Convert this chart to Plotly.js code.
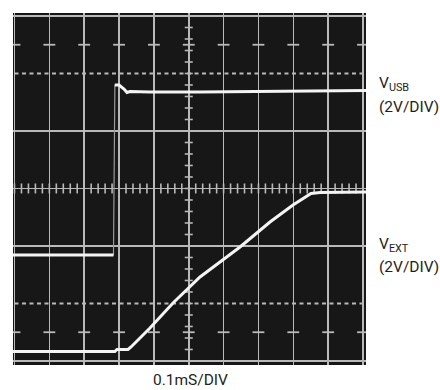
<!DOCTYPE html>
<html>
<head>
<meta charset="utf-8">
<script src="https://cdn.plot.ly/plotly-3.0.1.min.js"></script>
<style>html,body{margin:0;padding:0;background:#fff;}#chart{width:440px;height:390px;}</style>
</head>
<body>
<div id="chart"></div>
<script>
// Time in divisions (0.1 ms/DIV), voltage in divisions (2 V/DIV)
const vusbT = [-0.05, 2.84, 2.88, 3.0, 3.142, 3.228, 3.314, 3.888, 5.323, 6.758, 8.192, 10.09];
const vusbV = [1.843, 1.843, 4.80, 4.80, 4.73, 4.67, 4.687, 4.678, 4.678, 4.687, 4.696, 4.704];
const vextT = [-0.05, 2.88, 2.94, 3.257, 3.343, 3.888, 4.548, 5.323, 6.471, 7.331, 7.991, 8.508, 8.766, 10.09];
const vextV = [0.165, 0.165, 0.2, 0.2, 0.243, 0.574, 1.009, 1.461, 1.983, 2.417, 2.713, 2.913, 2.930, 2.939];
const xDivs = [0,1,2,3,4,5,6,7,8,9,10];
const ySolid = [0,2,3,4,6];
const yDashed = [1,5];
const yMarkRows = [0.5,5.5];
const labels = {usb: 'V<sub>USB</sub>', ext: 'V<sub>EXT</sub>', scale: '(2V/DIV)', time: '0.1mS/DIV'};

const grid = '#b9b9b9';
const traceCol = '#f4f4f4';
const shapes = [];
yDashed.forEach(y => shapes.push({type:'line', xref:'x', yref:'y', x0:0, x1:10, y0:y, y1:y, layer:'below',
  line:{color:grid, width:1.8, dash:'4px,3.5px'}}));
yMarkRows.forEach(y => xDivs.forEach(x => shapes.push({type:'line', xref:'x', yref:'y', x0:x-0.17, x1:x+0.17, y0:y, y1:y, layer:'below',
  line:{color:grid, width:1.8}})));
for (let i = 0; i <= 30; i++) { const y = i*0.2;
  shapes.push({type:'line', xref:'x', yref:'y', x0:5-0.115, x1:5+0.115, y0:y, y1:y, layer:'below', line:{color:grid, width:1.6}}); }
for (let i = 0; i <= 50; i++) { const x = i*0.2;
  shapes.push({type:'line', xref:'x', yref:'y', x0:x, x1:x, y0:3-0.087, y1:3+0.087, layer:'below', line:{color:grid, width:1.6}}); }

const data = [
  {x: vusbT, y: vusbV, mode:'lines', line:{color:'#9a9a9a', width:1.2}, hoverinfo:'skip'},
  {x: vusbT.slice(0,2), y: vusbV.slice(0,2), mode:'lines', line:{color:traceCol, width:3}, hoverinfo:'skip'},
  {x: vusbT.slice(2), y: vusbV.slice(2), mode:'lines', line:{color:traceCol, width:3}, hoverinfo:'skip'},
  {x: vextT, y: vextV, mode:'lines', line:{color:traceCol, width:3}, hoverinfo:'skip'}
];

const font = {family:'Roboto, "Liberation Sans", sans-serif', size:15.5, color:'#231f20'};
const layout = {
  width:440, height:390,
  margin:{l:13, r:74, t:13, b:25, pad:0},
  paper_bgcolor:'#ffffff', plot_bgcolor:'#171717',
  showlegend:false,
  xaxis:{range:[-0.043, 10.086], tick0:0, dtick:1, showgrid:true, gridcolor:grid, gridwidth:1.5,
    zeroline:false, showticklabels:false, ticks:'', showline:false, fixedrange:true},
  yaxis:{range:[-0.07, 6.052], tickvals:ySolid, showgrid:true, gridcolor:grid, gridwidth:1.5,
    zeroline:false, showticklabels:false, ticks:'', showline:false, fixedrange:true},
  shapes: shapes,
  annotations:[
    {xref:'paper', yref:'paper', x:1.031, y:0.798, xanchor:'left', yanchor:'middle', text:labels.usb, showarrow:false, font:font},
    {xref:'paper', yref:'paper', x:1.031, y:0.732, xanchor:'left', yanchor:'middle', text:labels.scale, showarrow:false, font:font},
    {xref:'paper', yref:'paper', x:1.031, y:0.341, xanchor:'left', yanchor:'middle', text:labels.ext, showarrow:false, font:font},
    {xref:'paper', yref:'paper', x:1.031, y:0.279, xanchor:'left', yanchor:'middle', text:labels.scale, showarrow:false, font:font},
    {xref:'paper', yref:'paper', x:0.503, y:-0.043, xanchor:'center', yanchor:'middle', text:labels.time, showarrow:false, font:font}
  ]
};
Plotly.newPlot('chart', data, layout, {displayModeBar:false, staticPlot:true});
</script>
</body>
</html>
